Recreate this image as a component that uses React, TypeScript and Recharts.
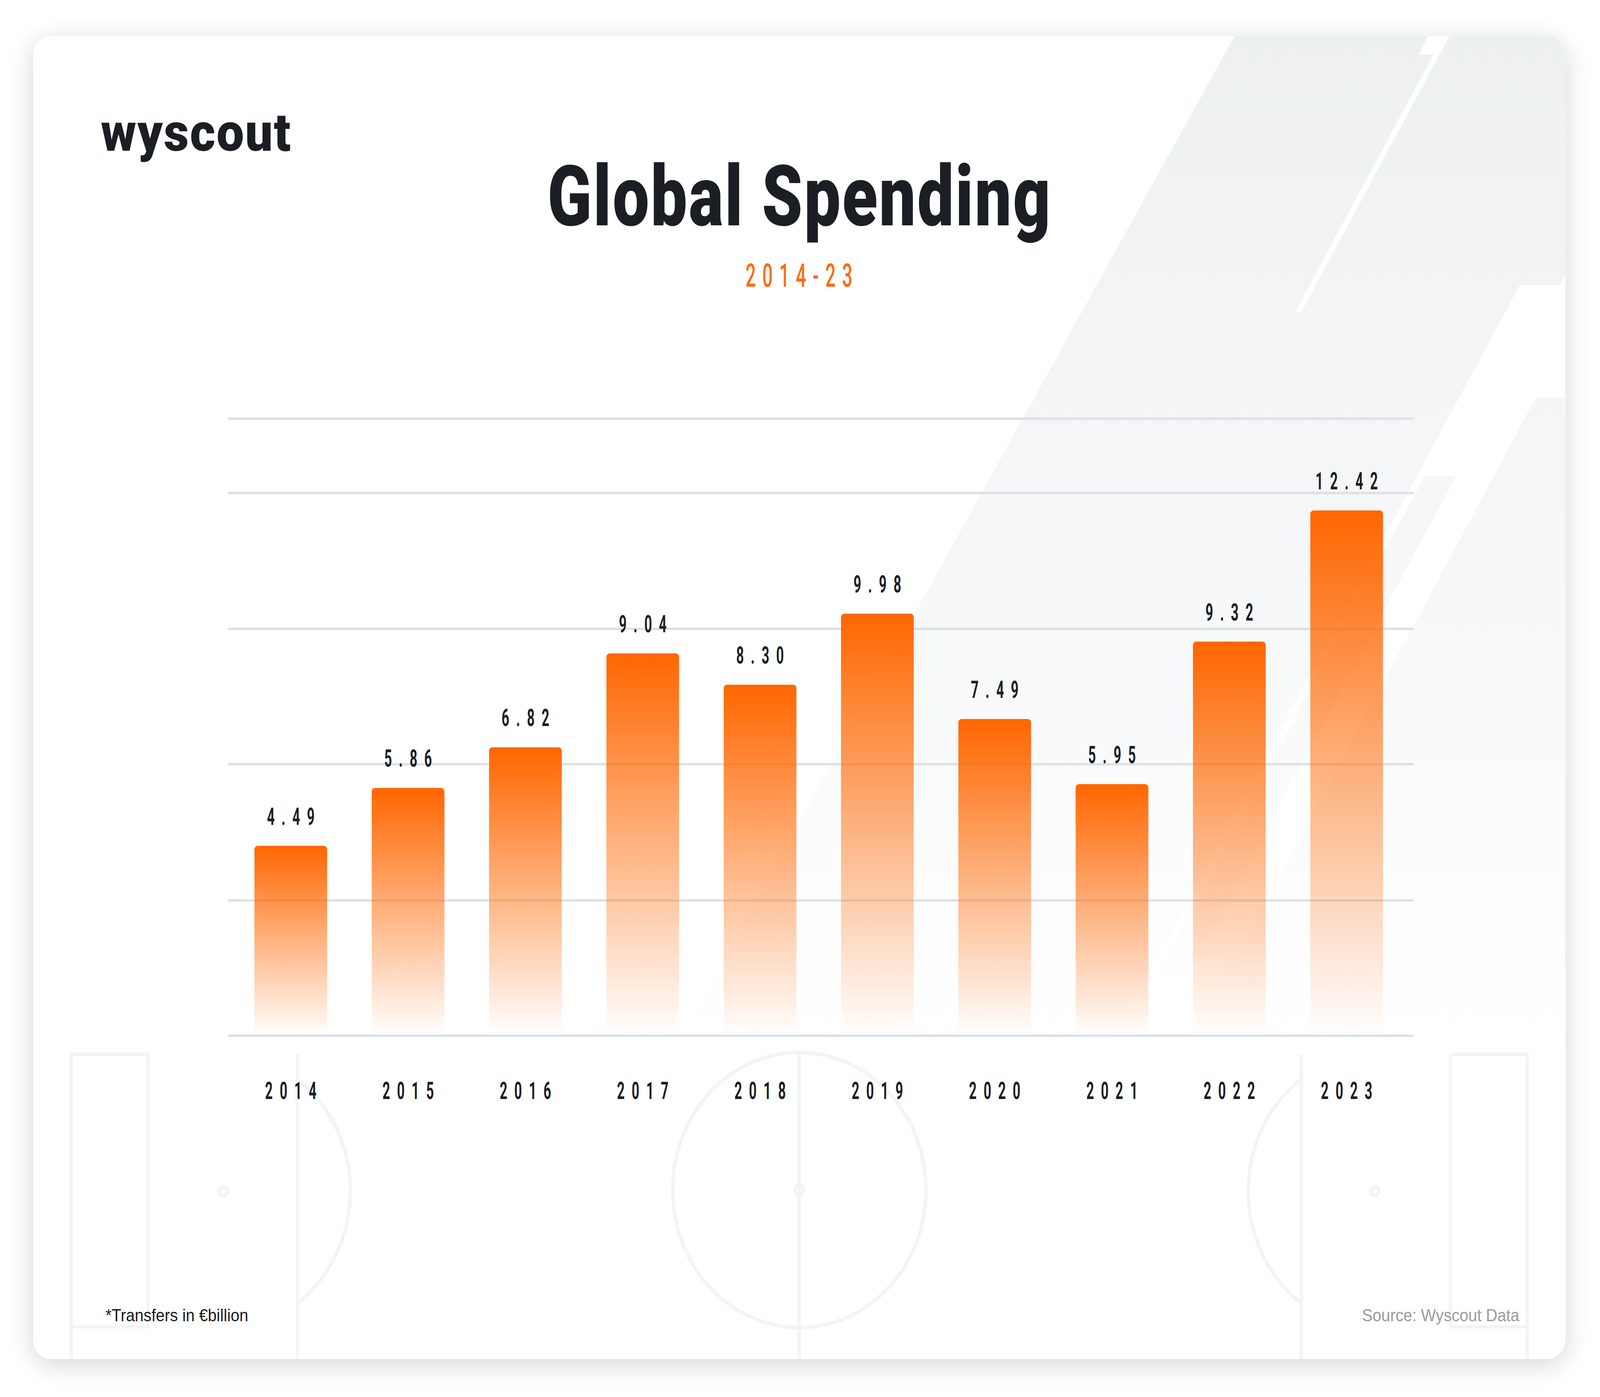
import { BarChart, Bar, XAxis, YAxis, CartesianGrid, LabelList } from 'recharts'

const years = ['2014', '2015', '2016', '2017', '2018', '2019', '2020', '2021', '2022', '2023']
const spending = [4.49, 5.86, 6.82, 9.04, 8.3, 9.98, 7.49, 5.95, 9.32, 12.42]
const gridTicks = [0, 3.2, 6.42, 9.62, 12.83, 14.59]

const W = 4446
const H = 3577
const INK = '#1b1f24'
const ORANGE = '#ff6600'

const data = years.map((year, i) => ({ year, value: spending[i] }))

function Narrow({ x, y, text, size = 62, sx = 0.6, ls = 32, color = INK, weight = 700 }: any) {
  return (
    <text
      transform={`translate(${x},${y}) scale(${sx},1)`}
      textAnchor="middle"
      dx={ls / 2}
      fontFamily="Roboto, sans-serif"
      fontWeight={weight}
      fontSize={size}
      letterSpacing={ls}
      fill={color}
    >
      {text}
    </text>
  )
}

function YearTick({ x, y, payload }: any) {
  return <Narrow x={x} y={y + 162} text={payload.value} />
}

function ValueLabel({ x, y, width, value }: any) {
  return <Narrow x={x + width / 2} y={y - 54} text={Number(value).toFixed(2)} />
}

function Backdrop() {
  const line = { stroke: '#f3f4f6', strokeWidth: 9, fill: 'none' }
  return (
    <svg width={W} height={H} style={{ position: 'absolute', left: -92, top: -92 }}>
      <defs>
        <linearGradient id="band" gradientUnits="userSpaceOnUse" x1="0" y1="92" x2="0" y2="2700">
          <stop offset="0" stopColor="#edf0f1" />
          <stop offset="0.55" stopColor="#f7f8f9" />
          <stop offset="1" stopColor="#ffffff" />
        </linearGradient>
      </defs>
      {/* diagonal bands, top right */}
      <polygon points="3431,92 4350,92 4350,702 4333,730 4223,730 2650,3420 1430,3420" fill="url(#band)" />
      <polygon points="3968,92 4028,92 3616,800 3598,800 3983,140 3943,140" fill="#ffffff" />
      <polygon points="4268,1018 4350,1018 4350,3480 2833,3480" fill="url(#band)" />
      <polygon points="3958,1220 4046,1220 3300,2500 3212,2500" fill="url(#band)" />
      {/* pitch markings */}
      <rect x={198} y={2700} width={213} height={697} {...line} />
      <line x1={198} y1={3397} x2={198} y2={3480} {...line} />
      <line x1={826} y1={2700} x2={826} y2={3480} {...line} />
      <path d="M826,2763 A353,353 0 0 1 826,3337" {...line} />
      <circle cx={621} cy={3050} r={11} {...line} />
      <line x1={2221} y1={2693} x2={2221} y2={3480} {...line} />
      <circle cx={2221} cy={3047} r={352} {...line} />
      <circle cx={2221} cy={3047} r={12} {...line} />
      <rect x={4031} y={2700} width={213} height={697} {...line} />
      <line x1={4244} y1={3397} x2={4244} y2={3480} {...line} />
      <line x1={3616} y1={2700} x2={3616} y2={3480} {...line} />
      <path d="M3616,2763 A353,353 0 0 0 3616,3337" {...line} />
      <circle cx={3821} cy={3050} r={11} {...line} />
    </svg>
  )
}

function Texts() {
  return (
    <svg width={W} height={H} style={{ position: 'absolute', left: -92, top: -92 }}>
      <text x={280} y={386} fontFamily="Roboto, sans-serif" fontWeight={900} fontSize={136} letterSpacing={3} fill={INK}>
        wyscout
      </text>
      <Narrow x={2220} y={577} text="Global Spending" size={215} sx={0.84} ls={5} weight={900} />
      <Narrow x={2220} y={734} text="2014-23" size={84} sx={0.6} ls={30} weight={500} color="#ff6a13" />
      <text x={293} y={3383} fontFamily="'Liberation Sans', Arial, sans-serif" fontSize={44} fill="#1a1a1a">
        *Transfers in €billion
      </text>
      <text x={4222} y={3383} textAnchor="end" fontFamily="'Liberation Sans', Arial, sans-serif" fontSize={44} fill="#9a9a9a">
        Source: Wyscout Data
      </text>
    </svg>
  )
}

export default function App() {
  // the browser may be narrower than the canvas; squeeze horizontally to fit
  const fit = typeof window !== 'undefined' ? Math.min(1, window.innerWidth / W) : 1
  return (
    <div
      style={{
        position: 'absolute',
        left: 0,
        top: 0,
        width: W,
        height: H,
        background: '#ffffff',
        overflow: 'hidden',
        transform: `scale(${fit}, 1)`,
        transformOrigin: '0 0',
      }}
    >
      <div
        style={{
          position: 'absolute',
          left: 92,
          top: 92,
          width: 4258,
          height: 3388,
          borderRadius: 50,
          background: '#ffffff',
          boxShadow: '0 14px 70px rgba(0,0,0,0.16)',
          overflow: 'hidden',
        }}
      >
        <Backdrop />
        <div style={{ position: 'absolute', left: -92, top: -92 }}>
          <BarChart width={W} height={H} data={data} margin={{ top: 1072, right: 518, bottom: 725, left: 633 }}>
            <defs>
              <linearGradient id="barFade" x1="0" y1="0" x2="0" y2="1">
                <stop offset="0" stopColor={ORANGE} stopOpacity={1} />
                <stop offset="1" stopColor={ORANGE} stopOpacity={0} />
              </linearGradient>
            </defs>
            <CartesianGrid vertical={false} stroke="#dde1e5" strokeWidth={6} />
            <XAxis
              dataKey="year"
              height={200}
              axisLine={false}
              tickLine={false}
              tickSize={0}
              tickMargin={0}
              padding={{ left: 12, right: 23 }}
              tick={<YearTick />}
              interval={0}
            />
            <YAxis hide domain={[0, 14.59]} ticks={gridTicks} />
            <Bar dataKey="value" fill="url(#barFade)" barSize={202} radius={[9, 9, 0, 0]} isAnimationActive={false}>
              <LabelList dataKey="value" content={<ValueLabel />} />
            </Bar>
          </BarChart>
        </div>
        <Texts />
      </div>
    </div>
  )
}
